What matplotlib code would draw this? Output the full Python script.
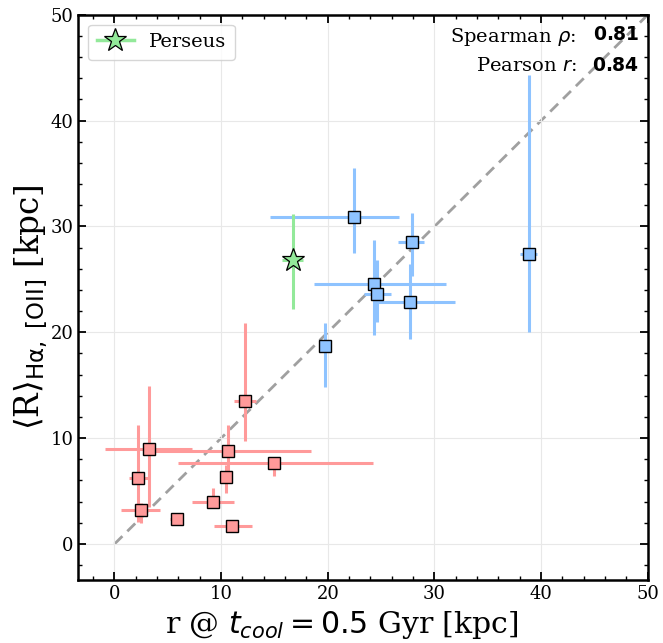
import matplotlib
matplotlib.use("Agg")
import matplotlib.pyplot as plt
from matplotlib.lines import Line2D
from matplotlib.ticker import MultipleLocator
import numpy as np

plt.rcParams['font.family'] = ['DejaVu Serif']
plt.rcParams['mathtext.fontset'] = 'dejavusans'

# cool-core sample (red)
red_x = [12.2, 3.25, 10.6, 15.0, 2.2, 10.5, 9.2, 2.5, 5.85, 11.0]
red_x_lo = [1.0, 4.1, 7.2, 9.0, 0.85, 0.3, 1.9, 1.85, 0.6, 1.7]
red_x_hi = [1.1, 4.05, 7.8, 9.2, 1.0, 0.3, 2.05, 1.8, 0.6, 1.85]
red_y = [13.5, 9.0, 8.8, 7.65, 6.2, 6.3, 4.0, 3.2, 2.35, 1.7]
red_y_lo = [3.8, 5.5, 2.0, 1.2, 4.1, 1.5, 0.6, 1.2, 0.4, 0.3]
red_y_hi = [7.4, 5.9, 2.4, 0.6, 5.0, 1.2, 1.3, 0.7, 0.3, 0.3]

# blue sample
blue_x = [22.5, 27.9, 38.9, 24.35, 24.6, 27.7, 19.7]
blue_x_lo = [7.9, 1.3, 0.9, 5.65, 1.2, 3.1, 0.3]
blue_x_hi = [4.2, 1.1, 0.7, 6.7, 1.3, 4.2, 0.3]
blue_y = [30.9, 28.5, 27.4, 24.6, 23.65, 22.85, 18.75]
blue_y_lo = [3.4, 3.2, 7.4, 4.9, 2.65, 3.45, 3.9]
blue_y_hi = [4.6, 2.8, 16.9, 4.1, 3.15, 3.65, 2.15]

# Perseus
pers_x, pers_y = 16.7, 26.85
pers_x_err = [[1.0], [1.0]]
pers_y_err = [[4.65], [4.35]]

spearman, pearson = 0.81, 0.84

red = '#ff9a9a'
blue = '#8ec3ff'
green = '#93e99a'

fig, ax = plt.subplots(figsize=(6.63, 6.43), dpi=100)
fig.subplots_adjust(left=0.118, right=0.977, bottom=0.098, top=0.977)

ax.plot([0, 50], [0, 50], ls='--', color='#a0a0a0', lw=2, zorder=1, dashes=(4, 2.5))

ax.errorbar(red_x, red_y, xerr=[red_x_lo, red_x_hi], yerr=[red_y_lo, red_y_hi],
            fmt='s', ms=9, mfc=red, mec='black', mew=1.0, ecolor=red,
            elinewidth=2.2, capsize=0, zorder=3)
ax.errorbar(blue_x, blue_y, xerr=[blue_x_lo, blue_x_hi], yerr=[blue_y_lo, blue_y_hi],
            fmt='s', ms=9, mfc=blue, mec='black', mew=1.0, ecolor=blue,
            elinewidth=2.2, capsize=0, zorder=3)
ax.errorbar([pers_x], [pers_y], xerr=pers_x_err, yerr=pers_y_err,
            fmt='*', ms=17, mfc=green, mec='black', mew=0.9, ecolor=green,
            elinewidth=2.2, capsize=0, zorder=4)

handle = Line2D([], [], color=green, lw=2.5, marker='*', ms=17,
                mfc=green, mec='black', mew=0.9)
leg = ax.legend([handle], ['Perseus'], loc='upper left', fontsize=14,
                frameon=True, handlelength=1.9, borderpad=0.45)
leg.get_frame().set_edgecolor('#cccccc')

ax.text(0.875, 0.98, r'Spearman $\rho$:', transform=ax.transAxes,
        ha='right', va='top', fontsize=14)
ax.text(0.985, 0.98, r'$\mathbf{%.2f}$' % spearman, transform=ax.transAxes,
        ha='right', va='top', fontsize=13.5)
ax.text(0.875, 0.925, r'Pearson $r$:', transform=ax.transAxes,
        ha='right', va='top', fontsize=14)
ax.text(0.985, 0.925, r'$\mathbf{%.2f}$' % pearson, transform=ax.transAxes,
        ha='right', va='top', fontsize=13.5)

ax.set_xlim(-3.4, 50)
ax.set_ylim(-3.4, 50)
ax.xaxis.set_major_locator(MultipleLocator(10))
ax.yaxis.set_major_locator(MultipleLocator(10))
ax.xaxis.set_minor_locator(MultipleLocator(2))
ax.yaxis.set_minor_locator(MultipleLocator(2))
ax.tick_params(which='both', direction='in', top=True, right=True, labelsize=13)
ax.tick_params(which='major', length=6, width=1.3)
ax.tick_params(which='minor', length=3, width=1.0)
for s in ax.spines.values():
    s.set_linewidth(1.8)
ax.grid(True, which='major', color='#e8e8e8', lw=0.8, zorder=0)

ax.set_xlabel(r'r @ $t_{cool} = 0.5$ Gyr [kpc]', fontsize=21.5)
ax.set_ylabel(r'$\langle$R$\rangle_{\mathrm{H\alpha,\ [OII]}}$ [kpc]', fontsize=23.5)
ax.xaxis.set_label_coords(0.462, -0.052)
ax.yaxis.set_label_coords(-0.05, 0.483)

fig.savefig('out.png', dpi=100)
